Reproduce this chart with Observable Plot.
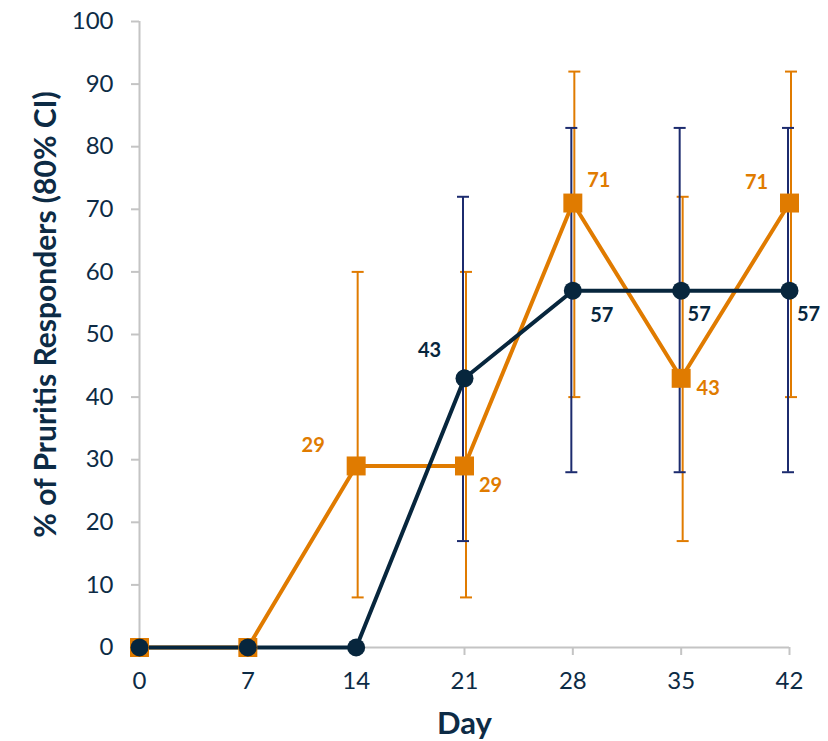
<!DOCTYPE html>
<html>
<head>
<meta charset="utf-8">
<script src="https://cdn.jsdelivr.net/npm/d3@7"></script>
<script src="https://cdn.jsdelivr.net/npm/@observablehq/plot@0.6"></script>
<style>
  html, body { margin: 0; padding: 0; background: #fff; }
  #chart { width: 828px; height: 741px; }
</style>
</head>
<body>
<div id="chart"></div>
<script>
// ---- Data ----
const days = [0, 7, 14, 21, 28, 35, 42];
const navyValues = [0, 0, 0, 43, 57, 57, 57];
const navyLow  = [null, null, null, 17, 28, 28, 28];
const navyHigh = [null, null, null, 72, 83, 83, 83];
const orangeValues = [0, 0, 29, 29, 71, 43, 71];
const orangeLow  = [null, null, 8, 8, 40, 17, 40];
const orangeHigh = [null, null, 60, 60, 92, 72, 92];
const navyLabelDays = [21, 28, 35, 42];
const orangeLabelDays = [14, 21, 28, 35, 42];
const yTicks = [0, 10, 20, 30, 40, 50, 60, 70, 80, 90, 100];
const xTicks = [0, 7, 14, 21, 28, 35, 42];
const xTitle = "Day";
const yTitle = "% of Pruritis Responders (80% CI)";

// ---- Styling (label placement offsets in pixels) ----
const navyLabelOffsets = [[-35, -28], [29, 25], [18, 24], [19, 24]];
const orangeLabelOffsets = [[-43, -20], [26, 20], [26, -22], [27, 10], [-33, -20]];

const NAVY = "#07263d";
const NAVY_ERR = "#1c2b6e";
const ORANGE = "#e07b00";
const AXIS = "#c4c4c4";
const TEXT = "#0d2b45";

const navy = days.map((d, i) => ({day: d, v: navyValues[i], lo: navyLow[i], hi: navyHigh[i]}));
const orange = days.map((d, i) => ({day: d, v: orangeValues[i], lo: orangeLow[i], hi: orangeHigh[i]}));
const navyErr = navy.filter(d => d.lo != null);
const orangeErr = orange.filter(d => d.lo != null);

// custom horizontal cap symbol
const capSymbol = {
  draw(context, size) {
    const r = Math.sqrt(size / Math.PI);
    context.moveTo(-r, 0);
    context.lineTo(r, 0);
  }
};

function errMarks(data, color, dx) {
  return [
    Plot.ruleX(data, {x: "day", y1: "lo", y2: "hi", stroke: color, strokeWidth: 2, dx}),
    Plot.dot(data, {x: "day", y: "lo", symbol: capSymbol, r: 6, stroke: color, strokeWidth: 2, fill: "none", dx}),
    Plot.dot(data, {x: "day", y: "hi", symbol: capSymbol, r: 6, stroke: color, strokeWidth: 2, fill: "none", dx})
  ];
}

function labelMarks(series, labelDays, offsets, color) {
  return labelDays.map((d, i) => Plot.text(series.filter(p => p.day === d), {
    x: "day", y: "v", text: p => String(p.v),
    dx: offsets[i][0], dy: offsets[i][1],
    fill: color, fontSize: 20, fontWeight: "bold", textAnchor: "middle", lineAnchor: "middle"
  }));
}

const chart = Plot.plot({
  width: 828,
  height: 741,
  marginLeft: 139,
  marginRight: 39,
  marginTop: 21,
  marginBottom: 94,
  style: {fontFamily: "Lato, 'Open Sans', sans-serif", background: "#fff"},
  x: {domain: [0, 42], ticks: xTicks},
  y: {domain: [0, 100], ticks: yTicks},
  marks: [
    Plot.axisY(yTicks, {tickSize: 8, tickPadding: 18, stroke: AXIS, strokeWidth: 2, fill: TEXT, fontSize: 24, label: null}),
    Plot.axisX(xTicks, {tickSize: 8, tickPadding: 16, stroke: AXIS, strokeWidth: 2, fill: TEXT, fontSize: 24, label: null}),
    Plot.ruleX([0], {stroke: AXIS, strokeWidth: 2}),
    Plot.ruleY([0], {stroke: AXIS, strokeWidth: 2}),
    ...errMarks(orangeErr, ORANGE, 1.5),
    ...errMarks(navyErr, NAVY_ERR, -1.5),
    Plot.line(orange, {x: "day", y: "v", stroke: ORANGE, strokeWidth: 4}),
    Plot.line(navy, {x: "day", y: "v", stroke: NAVY, strokeWidth: 4}),
    Plot.dot(orange, {x: "day", y: "v", symbol: "square", r: 10.7, fill: ORANGE}),
    Plot.dot(navy, {x: "day", y: "v", symbol: "circle", r: 9, fill: NAVY}),
    ...labelMarks(navy, navyLabelDays, navyLabelOffsets, NAVY),
    ...labelMarks(orange, orangeLabelDays, orangeLabelOffsets, ORANGE),
    Plot.text([xTitle], {frameAnchor: "bottom", dy: 77, text: d => d, fill: TEXT, fontSize: 31, fontWeight: "bold", lineAnchor: "middle"}),
    Plot.text([yTitle], {frameAnchor: "left", dx: -93, dy: -20, rotate: -90, text: d => d, fill: TEXT, fontSize: 30, fontWeight: "bold", lineAnchor: "middle", textAnchor: "middle"})
  ]
});
document.getElementById("chart").appendChild(chart);
</script>
</body>
</html>
